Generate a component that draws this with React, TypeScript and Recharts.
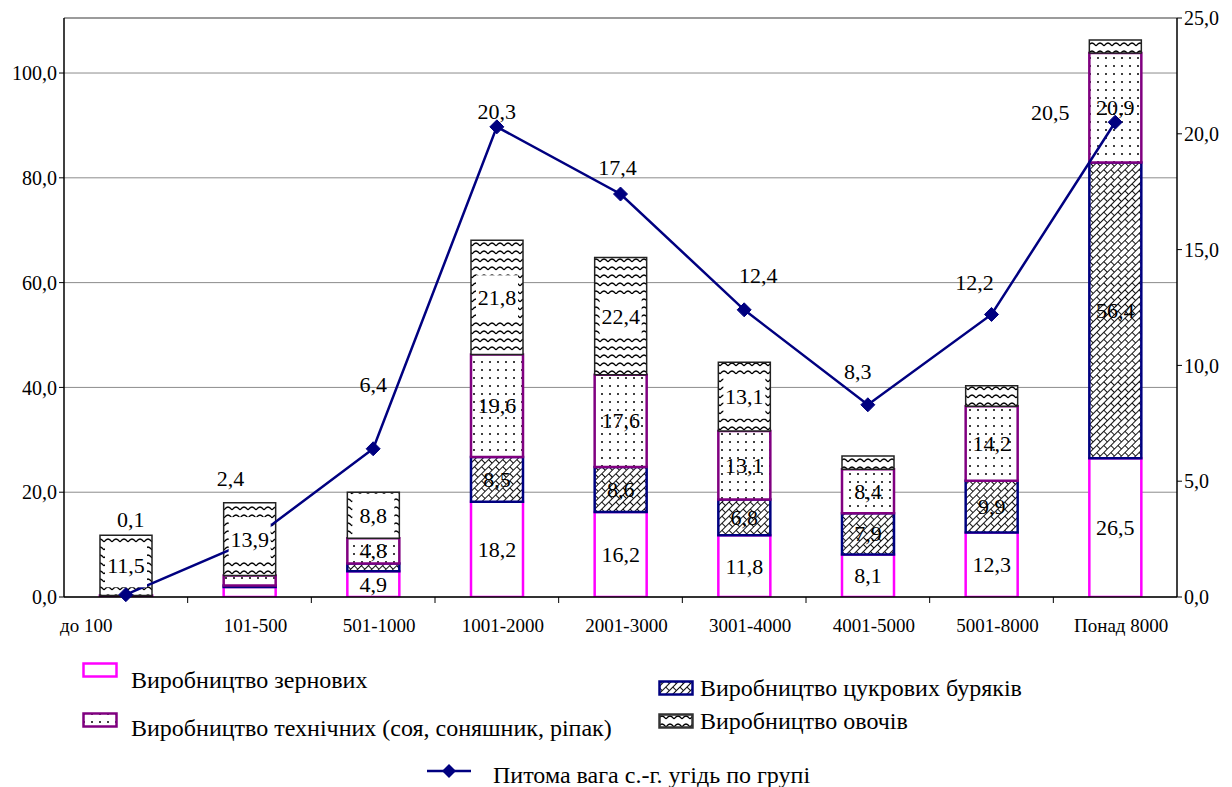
import React from 'react';
import { ComposedChart, Bar, Line, XAxis, YAxis, CartesianGrid, LabelList, ReferenceLine } from 'recharts';

const categories = ['до 100', '101-500', '501-1000', '1001-2000', '2001-3000', '3001-4000', '4001-5000', '5001-8000', 'Понад 8000'];
const grain = [0.2, 1.9, 4.9, 18.2, 16.2, 11.8, 8.1, 12.3, 26.5];
const sugar = [0.0, 0.3, 1.5, 8.5, 8.6, 6.8, 7.9, 9.9, 56.4];
const technical = [0.1, 1.9, 4.8, 19.6, 17.6, 13.1, 8.4, 14.2, 20.9];
const vegetables = [11.5, 13.9, 8.8, 21.8, 22.4, 13.1, 2.5, 3.9, 2.5];
const landShare = [0.1, 2.4, 6.4, 20.3, 17.4, 12.4, 8.3, 12.2, 20.5];
const leftTicks = [0, 20, 40, 60, 80, 100];
const rightTicks = [0, 5, 10, 15, 20, 25];

const seriesNames = {
  grain: 'Виробництво зернових',
  sugar: 'Виробництво цукрових буряків',
  technical: 'Виробництво технічних (соя, соняшник, ріпак)',
  vegetables: 'Виробництво овочів',
  share: 'Питома вага с.-г. угідь по групі',
};

// label placement offsets for the line's value labels (dx, dy), style only
const lineLabelOffsets = [[5, -75], [-19, -63], [0, -64], [0, -15], [-3, -27], [14, -34], [-10, -33], [-17, -32], [-65, -10]];

const data = categories.map((c, i) => ({
  name: c,
  grain: grain[i],
  sugar: sugar[i],
  technical: technical[i],
  vegetables: vegetables[i],
  share: landShare[i],
}));

const W = 1232;
const H = 787;
const M = { top: 18, right: 0, left: 0, bottom: 150 };
const LEFT_W = 64;
const RIGHT_W = 55;
const X_H = 40;
const PLOT_BOTTOM = H - M.bottom - X_H;
const BAND = (W - LEFT_W - RIGHT_W) / categories.length;
const FONT = '"Liberation Serif", "Times New Roman", "DejaVu Serif", serif';

const fmt = (v: number) => v.toFixed(1).replace('.', ',');

const MAGENTA = '#FF00FF';
const PURPLE = '#800080';
const NAVY = '#000080';

const Patterns = () => (
  <svg width={0} height={0} style={{ position: 'absolute' }}>
    <defs>
      <pattern id="dots" patternUnits="userSpaceOnUse" width={8} height={8}>
        <rect width={8} height={8} fill="#fff" />
        <circle cx={2} cy={2} r={1} fill="#000" />
      </pattern>
      <pattern id="waves" patternUnits="userSpaceOnUse" width={8} height={8}>
        <rect width={8} height={8} fill="#fff" />
        <path d="M0,6 Q4,0 8,6" fill="none" stroke="#000" strokeWidth={1.3} />
      </pattern>
      <pattern id="bricks" patternUnits="userSpaceOnUse" width={10} height={10} patternTransform="rotate(-45)">
        <rect width={10} height={10} fill="#fff" />
        <path d="M0,0.5 L10,0.5 M0,5.5 L10,5.5 M0.5,0.5 L0.5,5.5 M5.5,5.5 L5.5,10.5" fill="none" stroke="#111" strokeWidth={1} />
      </pattern>
    </defs>
  </svg>
);

const makeBarLabel = (whiteBox: boolean) => (props: any) => {
  const { x, y, width, height, value } = props;
  if (value == null || value < 4) return null;
  const cx = x + width / 2;
  const cy = y + height / 2;
  const bh = Math.min(44, height - 3);
  return (
    <g>
      {whiteBox && <rect x={cx - 21} y={cy - bh / 2} width={42} height={bh} fill="#fff" />}
      <text x={cx} y={cy} textAnchor="middle" dominantBaseline="central" fontFamily={FONT} fontSize={22} fill="#000">
        {fmt(value)}
      </text>
    </g>
  );
};

const renderLineLabel = (props: any) => {
  const { x, y, value } = props;
  let idx = props.index;
  if (idx == null) idx = landShare.indexOf(value);
  const off = lineLabelOffsets[idx] || [0, -20];
  return (
    <text x={x + off[0]} y={y + off[1]} textAnchor="middle" dominantBaseline="central" fontFamily={FONT} fontSize={22} fill="#000">
      {fmt(value)}
    </text>
  );
};

const Diamond = (props: any) => {
  const { cx, cy } = props;
  if (cx == null || cy == null) return null;
  const s = 7;
  return <path d={`M${cx},${cy - s} L${cx + s},${cy} L${cx},${cy + s} L${cx - s},${cy} Z`} fill={NAVY} stroke={NAVY} />;
};

const XTick = (props: any) => {
  const { x, payload, index } = props;
  const left = x - BAND / 2;
  const first = index === 0;
  return (
    <g>
      {!first && <line x1={left} x2={left} y1={PLOT_BOTTOM} y2={PLOT_BOTTOM + 6} stroke="#000" strokeWidth={1} />}
      <text
        x={first ? left - 4 : x + 6}
        y={PLOT_BOTTOM + 35}
        textAnchor={first ? 'start' : 'middle'}
        fontFamily={FONT}
        fontSize={19}
        fill="#000"
      >
        {payload.value}
      </text>
    </g>
  );
};

const Swatch = ({ fill, stroke }: { fill: string; stroke: string }) => (
  <svg width={36} height={16} style={{ display: 'block' }}>
    <rect x={1.5} y={1.5} width={33} height={13} fill={fill} stroke={stroke} strokeWidth={2.5} />
  </svg>
);

const legendText: React.CSSProperties = {
  position: 'absolute',
  fontFamily: FONT,
  fontSize: 24,
  color: '#000',
  whiteSpace: 'nowrap',
  lineHeight: '26px',
};

const LegendBlock = () => (
  <div style={{ position: 'absolute', left: 0, top: 0, width: W, height: H, pointerEvents: 'none' }}>
    <div style={{ position: 'absolute', left: 82, top: 662 }}>
      <Swatch fill="#fff" stroke={MAGENTA} />
    </div>
    <div style={{ ...legendText, left: 131, top: 667 }}>{seriesNames.grain}</div>

    <div style={{ position: 'absolute', left: 82, top: 712 }}>
      <Swatch fill="url(#dots)" stroke={PURPLE} />
    </div>
    <div style={{ ...legendText, left: 131, top: 715 }}>{seriesNames.technical}</div>

    <div style={{ position: 'absolute', left: 658, top: 680 }}>
      <Swatch fill="url(#bricks)" stroke={NAVY} />
    </div>
    <div style={{ ...legendText, left: 700, top: 675 }}>{seriesNames.sugar}</div>

    <div style={{ position: 'absolute', left: 658, top: 713 }}>
      <Swatch fill="url(#waves)" stroke="#333" />
    </div>
    <div style={{ ...legendText, left: 700, top: 708 }}>{seriesNames.vegetables}</div>

    <svg width={46} height={20} style={{ position: 'absolute', left: 426, top: 761 }}>
      <line x1={1} x2={45} y1={10} y2={10} stroke={NAVY} strokeWidth={2.5} />
      <path d="M23,3 L30,10 L23,17 L16,10 Z" fill={NAVY} />
    </svg>
    <div style={{ ...legendText, left: 493, top: 762 }}>{seriesNames.share}</div>
  </div>
);

export default function App() {
  return (
    <div style={{ position: 'absolute', left: 0, top: 0, width: W, height: H, background: '#fff' }}>
      <Patterns />
      <ComposedChart width={W} height={H} data={data} margin={M} barSize={52}>
        <CartesianGrid yAxisId="left" vertical={false} stroke="#8c8c8c" strokeWidth={1} />
        <ReferenceLine yAxisId="left" y={110.5} stroke="#8c8c8c" strokeWidth={1.5} ifOverflow="extendDomain" />
        <XAxis
          dataKey="name"
          height={X_H}
          axisLine={{ stroke: '#000', strokeWidth: 1.5 }}
          tickLine={false}
          tick={<XTick />}
          interval={0}
        />
        <YAxis
          yAxisId="left"
          width={LEFT_W}
          domain={[0, 110.5]}
          ticks={leftTicks}
          tickFormatter={fmt}
          axisLine={{ stroke: '#000', strokeWidth: 1.5 }}
          tickLine={{ stroke: '#000' }}
          tickSize={5}
          tick={{ fontFamily: FONT, fontSize: 20, fill: '#000' }}
          allowDataOverflow
        />
        <YAxis
          yAxisId="right"
          orientation="right"
          width={RIGHT_W}
          domain={[0, 25]}
          ticks={rightTicks}
          tickFormatter={fmt}
          axisLine={{ stroke: '#000', strokeWidth: 1.5 }}
          tickLine={{ stroke: '#000' }}
          tickSize={5}
          tick={{ fontFamily: FONT, fontSize: 20, fill: '#000' }}
        />
        <Bar yAxisId="left" dataKey="grain" name={seriesNames.grain} stackId="a" fill="#fff" stroke={MAGENTA} strokeWidth={2.5} isAnimationActive={false}>
          <LabelList dataKey="grain" content={makeBarLabel(false)} />
        </Bar>
        <Bar yAxisId="left" dataKey="sugar" name={seriesNames.sugar} stackId="a" fill="url(#bricks)" stroke={NAVY} strokeWidth={2.5} isAnimationActive={false}>
          <LabelList dataKey="sugar" content={makeBarLabel(false)} />
        </Bar>
        <Bar yAxisId="left" dataKey="technical" name={seriesNames.technical} stackId="a" fill="url(#dots)" stroke={PURPLE} strokeWidth={2.5} isAnimationActive={false}>
          <LabelList dataKey="technical" content={makeBarLabel(false)} />
        </Bar>
        <Bar yAxisId="left" dataKey="vegetables" name={seriesNames.vegetables} stackId="a" fill="url(#waves)" stroke="#222" strokeWidth={1.5} isAnimationActive={false}>
          <LabelList dataKey="vegetables" content={makeBarLabel(true)} />
        </Bar>
        <Line
          yAxisId="right"
          dataKey="share"
          name={seriesNames.share}
          type="linear"
          stroke={NAVY}
          strokeWidth={2.5}
          dot={<Diamond />}
          activeDot={false}
          isAnimationActive={false}
        >
          <LabelList dataKey="share" content={renderLineLabel} />
        </Line>
      </ComposedChart>
      <LegendBlock />
    </div>
  );
}
